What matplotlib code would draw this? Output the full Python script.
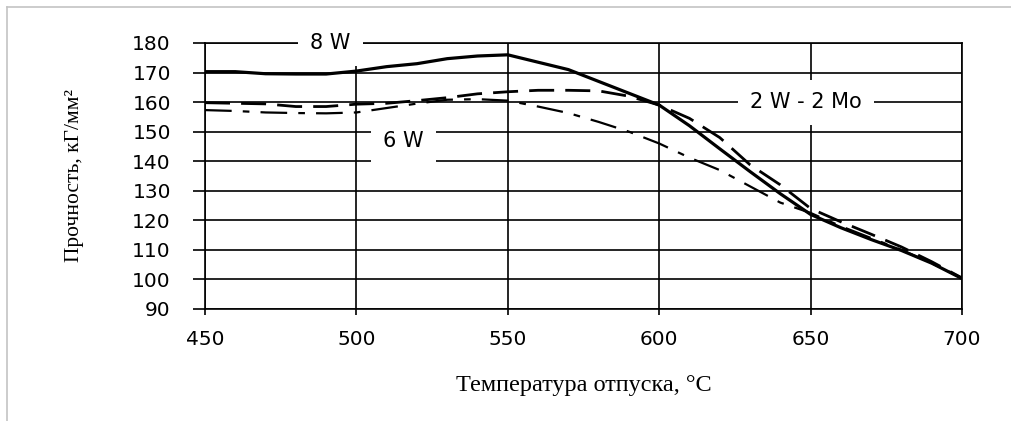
import matplotlib
matplotlib.use("Agg")
import matplotlib.pyplot as plt
from matplotlib.lines import Line2D

# ---- data ----
temps = [450, 460, 470, 480, 490, 500, 510, 520, 530, 540, 550, 560, 570,
         580, 590, 600, 610, 620, 630, 640, 650, 660, 670, 680, 690, 700]
w8 = [170.3, 170.3, 169.6, 169.5, 169.5, 170.5, 172.0, 173.0, 174.7, 175.6,
      176.0, 173.5, 171.0, 167.0, 163.0, 159.0, 152.0, 144.2, 136.5, 129.0,
      122.0, 117.5, 113.5, 109.8, 105.5, 100.3]
w2mo2 = [159.8, 159.6, 159.4, 158.5, 158.5, 159.3, 159.6, 160.5, 161.5, 162.8,
         163.5, 164.0, 164.0, 163.8, 162.0, 159.0, 154.5, 148.0, 138.8, 132.0,
         124.0, 119.5, 115.3, 111.0, 106.0, 100.5]
w6 = [157.3, 157.0, 156.5, 156.3, 156.2, 156.5, 158.0, 159.5, 160.8, 161.0,
      160.5, 158.5, 156.3, 153.3, 150.0, 146.0, 141.2, 137.0, 131.5, 126.0,
      122.5, 118.0, 114.0, 110.0, 105.5, 100.5]
xticks = [450, 500, 550, 600, 650, 700]
yticks = [90, 100, 110, 120, 130, 140, 150, 160, 170, 180]
labels = ["8 W", "6 W", "2 W - 2 Mo"]
label_pos = [(491.5, 180.0), (515.5, 147.0), (648.5, 160.0)]
xlabel = "Температура отпуска, °C"
ylabel = "Прочность, кГ/мм²"

W, H = 1012, 421
fig = plt.figure(figsize=(W / 100, H / 100), dpi=100)
fig.patch.set_facecolor("white")

# light frame of the original picture
fig.add_artist(Line2D([7.5 / W, 1.0], [1 - 6.5 / H, 1 - 6.5 / H],
                      transform=fig.transFigure, color="#c4c4c4", lw=1.2))
fig.add_artist(Line2D([7.5 / W, 7.5 / W], [0.0, 1 - 6.5 / H],
                      transform=fig.transFigure, color="#c4c4c4", lw=1.2))

ax = fig.add_axes([205 / W, 1 - 309 / H, 757 / W, 266 / H])
ax.set_facecolor("white")

ax.plot(temps, w8, color="black", lw=2.3, solid_capstyle="butt", zorder=3)
ax.plot(temps, w2mo2, color="black", lw=2.0, dashes=(9, 4), zorder=3)
ax.plot(temps, w6, color="black", lw=1.6, dashes=(12, 5, 3, 5), zorder=3)

ax.set_xlim(450, 700)
ax.set_ylim(90, 180)
ax.set_xticks(xticks)
ax.set_yticks(yticks)
ax.grid(True, color="black", lw=1.2)
ax.set_axisbelow(True)
for s in ax.spines.values():
    s.set_color("black")
    s.set_linewidth(1.2)

ax.tick_params(axis="y", direction="out", length=8.6, width=1.2,
               pad=16, labelsize=14.5, colors="black")
ax.tick_params(axis="x", direction="out", length=4.3, width=1.2,
               pad=11, labelsize=14.5, colors="black")
for t in ax.get_xticklabels() + ax.get_yticklabels():
    t.set_fontfamily("DejaVu Sans")

for txt, (x, y) in zip(labels, label_pos):
    ax.text(x, y, txt, ha="center", va="center", fontsize=15,
            family="DejaVu Sans", color="black", zorder=6,
            bbox=dict(boxstyle="square,pad=0.6", fc="white", ec="none"))

ax.set_xlabel(xlabel, fontsize=17.5, family="Liberation Serif")
ax.xaxis.set_label_coords(0.5, -0.286)
ax.xaxis.label.set_va("center")
ax.set_ylabel(ylabel, fontsize=15.5, family="Liberation Serif")
ax.yaxis.set_label_coords(-0.173, 0.5)
ax.yaxis.label.set_va("center")

fig.savefig("out.png", dpi=100, facecolor="white")
